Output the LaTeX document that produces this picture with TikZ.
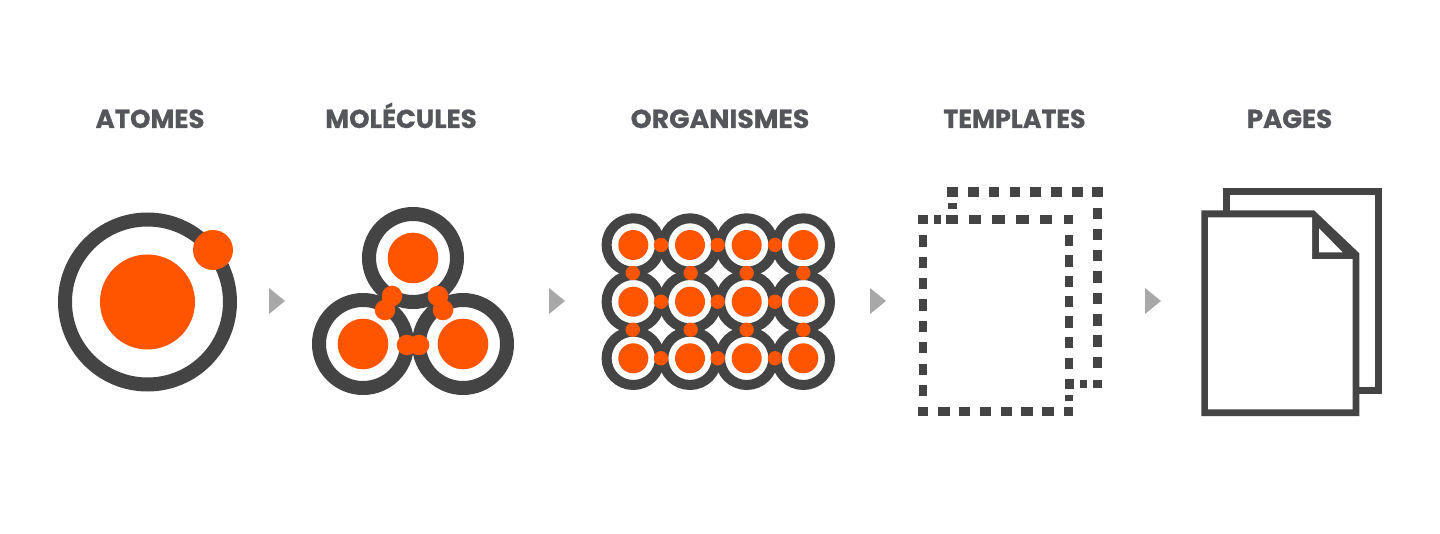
\documentclass[tikz,border=0pt]{standalone}
\usepackage{fontspec}
\setmainfont{Poppins}[BoldFont={Poppins Bold},BoldFeatures={FakeBold=0.6}]
\definecolor{ink}{HTML}{444444}
\definecolor{hot}{HTML}{FF5500}
\definecolor{label}{HTML}{55565B}
\definecolor{tri}{HTML}{A8A8A8}
\tikzset{
  title/.style={font=\bfseries\fontsize{13pt}{13pt}\selectfont, text=label, inner sep=0pt, anchor=base},
  ring/.style={draw=ink, fill=white},
  dot/.style={fill=hot},
  chev/.style={fill=tri},
  dk/.style={fill=ink}
}
\newcommand{\chevron}[1]{\fill[chev] (#1,288) -- (#1+16,301) -- (#1,314) -- cycle;}
\begin{document}
\begin{tikzpicture}[x=0.5pt,y=-0.5pt]
\useasboundingbox (0,0) rectangle (1440,534);
\fill[white] (0,0) rectangle (1440,534);
% titles
\node[title] (t1) at (150,128) {ATOMES};
\node[title] (t2) at (401,128) {MOLÉCULES};
\node[title,xscale=1.03] (t3) at (720,128) {ORGANISMES};
\node[title,xscale=0.97] (t4) at (1014.5,128) {TEMPLATES};
\node[title] (t5) at (1289.5,128) {PAGES};
% atom
\draw[ring,line width=7pt] (147.5,302) circle (82.5);
\fill[dot] (147.5,302) circle (47.5);
\fill[dot] (213,250) circle (20);
% molecule
\foreach \x/\y in {413/258,363/344,463/344}{
  \draw[ring,line width=7pt] (\x,\y) circle (44);
  \fill[dot] (\x,\y) circle (25.3);
}
\foreach \x/\y in {392/296,385/310,438/296,443/310,407/345,419/345}{
  \fill[dot] (\x,\y) circle (10.3);
}
% organism
\foreach \x in {633.3,690,746.7,803.3}{
  \foreach \y in {245,301.7,358.3}{
    \draw[ring,line width=5pt] (\x,\y) circle (26.7);
    \fill[dot] (\x,\y) circle (15);
  }
}
\foreach \x in {661,717.7,775}{
  \foreach \y in {245,301.7,358.3}{
    \fill[dot] (\x,\y) circle (7.2);
  }
}
\foreach \x in {632.7,690.7,746.7,803.3}{
  \foreach \y in {273,329.7}{
    \fill[dot] (\x,\y) circle (7.2);
  }
}
% arrows
\chevron{269}\chevron{549}\chevron{870}\chevron{1145}
% templates (zoom coordinates: 3 units per px)
\begin{scope}[xshift=452.5pt,yshift=-87.5pt,x=0.16667pt,y=-0.16667pt]
  % back sheet
  \foreach \x in {143,205,267,330,392,455,517,578}{
    \fill[dk] (\x-16,35) rectangle (\x+16,65);}
  \foreach \y in {115,178,242,306,370,435,498,563}{
    \fill[dk] (565,\y-17) rectangle (592,\y+17);}
  \fill[dk] (564,614) rectangle (591,640);
  \fill[dk] (526,614) rectangle (546,640);
  \fill[dk] (479,611) rectangle (508,643);
  \fill[dk] (129,83) rectangle (155,101);
  % front sheet
  \foreach \x/\w in {54/14,97/10,141/18,210/19,281/19,352/19,423/19,490/14}{
    \fill[dk] (\x-\w,120) rectangle (\x+\w,148);}
  \foreach \y in {198,262,326,390,455,518,583,647}{
    \fill[dk] (41,\y-17) rectangle (67,\y+17);}
  \foreach \x/\w in {54/14,117/17,179/17,241/17,304/17,366/17,429/17,490/14}{
    \fill[dk] (\x-\w,696) rectangle (\x+\w,723);}
  \foreach \y in {196,258,319,380,441,503,565}{
    \fill[dk] (479,\y-17) rectangle (505,\y+17);}
  \fill[dk] (479,660) rectangle (505,678);
\end{scope}
% pages (zoom coordinates: 3 units per px)
\begin{scope}[xshift=595pt,yshift=-87.5pt,x=0.16667pt,y=-0.16667pt]
  \fill[dk] (100,40) rectangle (575,657);
  \fill[white] (121,61) rectangle (554,636);
  \fill[dk] (34,106) -- (372,106) -- (508,235) -- (508,723) -- (34,723) -- cycle;
  \fill[white] (54,127) -- (366,127) -- (366,252) -- (488,252) -- (488,703) -- (54,703) -- cycle;
  \fill[white] (387,160) -- (387,232) -- (458,232) -- cycle;
\end{scope}
\end{tikzpicture}
\end{document}
